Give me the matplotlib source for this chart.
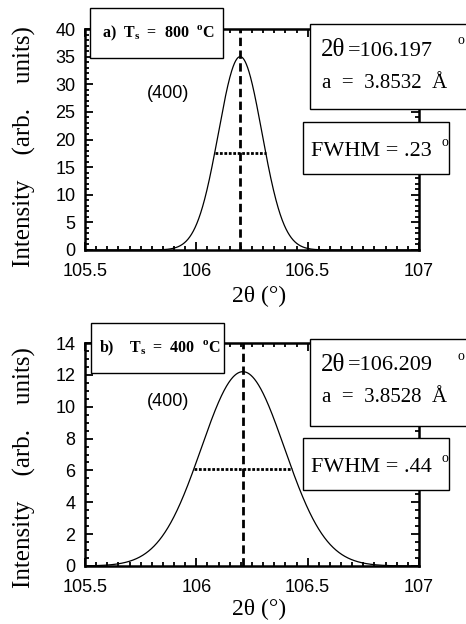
import numpy as np
import matplotlib.pyplot as plt
from matplotlib.patches import Rectangle
from matplotlib.ticker import MultipleLocator

# Fitted (400) peaks for the two substrate temperatures
labels = ["a)", "b)"]
temps = [800, 400]
centers = [106.197, 106.209]      # 2theta, degrees
lattice = [3.8532, 3.8528]        # a, Angstrom
fwhms = [0.23, 0.44]              # degrees
peaks = [35.0, 12.2]              # arb. units
ymax = [40, 14]
ymajor = [5, 2]
yminor = [1, 0.5]

W, H = 466, 624
SERIF = "Liberation Serif"
SANS = "Liberation Sans"

# panel layout in pixels (top-left origin)
AXES = [(85, 29, 419, 250), (85, 343, 419, 566)]
LABEL_BOX = [(90, 8, 223, 58), (91, 323, 224, 373)]
PEAK_BOX = [(310, 24, 472, 109), (310, 339, 472, 426)]
FWHM_BOX = [(303, 122, 449, 174), (303, 438, 449, 490)]


def px_box(fig, box):
    x0, y0, x1, y1 = box
    r = Rectangle((x0 / W, 1 - y1 / H), (x1 - x0) / W, (y1 - y0) / H,
                  transform=fig.transFigure, facecolor="white",
                  edgecolor="black", lw=1.0, zorder=5)
    fig.add_artist(r)


def px_text(fig, x, y, s, **kw):
    fig.text(x / W, 1 - y / H, s, zorder=6, **kw)


def gauss(x, c, fwhm, amp):
    sig = fwhm / (2 * np.sqrt(2 * np.log(2)))
    return amp * np.exp(-0.5 * ((x - c) / sig) ** 2)


fig = plt.figure(figsize=(W / 100, H / 100), dpi=100)
x = np.linspace(105.5, 107, 1500)

for i in range(2):
    l, t, r, b = AXES[i]
    ax = fig.add_axes([l / W, 1 - b / H, (r - l) / W, (b - t) / H])
    c, fw, pk = centers[i], fwhms[i], peaks[i]

    ax.plot(x, gauss(x, c, fw, pk), color="black", lw=0.9)
    ax.plot([c, c], [0, ymax[i]], color="black", lw=2.0, ls=(0, (3, 1.6)))
    ax.plot([c - fw / 2, c + fw / 2], [pk / 2, pk / 2], color="black",
            lw=2.0, ls=(0, (1, 0.6)))

    ax.set_xlim(105.5, 107)
    ax.set_ylim(0, ymax[i])
    ax.set_xticks([105.5, 106, 106.5, 107])
    ax.set_xticklabels(["105.5", "106", "106.5", "107"])
    ax.xaxis.set_minor_locator(MultipleLocator(0.05))
    ax.yaxis.set_major_locator(MultipleLocator(ymajor[i]))
    ax.yaxis.set_minor_locator(MultipleLocator(yminor[i]))
    ax.tick_params(which="both", direction="in", top=True, right=True,
                   width=1.3, labelsize=13)
    ax.tick_params(which="major", length=6)
    ax.tick_params(which="minor", length=3)
    ax.tick_params(axis="x", pad=9)
    ax.tick_params(axis="y", pad=7)
    for lab in ax.get_xticklabels() + ax.get_yticklabels():
        lab.set_fontfamily(SANS)
    for sp in ax.spines.values():
        sp.set_linewidth(1.8)

    ax.text(-0.18, 0.47 if i == 0 else 0.44,
            "Intensity    (arb.    units)", transform=ax.transAxes,
            family=SERIF, fontsize=18, rotation=90,
            ha="center", va="center")
    ax.text(0.52, -0.208 if i == 0 else -0.197, "2θ (°)",
            transform=ax.transAxes, family=SERIF, fontsize=17,
            ha="center", va="center")
    ax.text(0.25, 0.708 if i == 0 else 0.737, "(400)", transform=ax.transAxes,
            family=SANS, fontsize=13, ha="center", va="center")

    # annotation boxes
    lb, pb, fb = LABEL_BOX[i], PEAK_BOX[i], FWHM_BOX[i]
    px_box(fig, lb)
    gap = "  " if i == 0 else "    "
    px_text(fig, (lb[0] + lb[2]) / 2 + 2, (lb[1] + lb[3]) / 2,
            labels[i] + gap + r"T$_\mathregular{s}$  =  " + f"{temps[i]}"
            + r"  $^{\mathregular{o}}$C",
            family=SERIF, fontsize=11.5, weight="bold", ha="center",
            va="center")

    px_box(fig, pb)
    px_text(fig, 321, pb[1] + 26, "2θ", family=SERIF, fontsize=18,
            va="center")
    px_text(fig, 348, pb[1] + 27, f"={centers[i]:.3f}", family=SERIF,
            fontsize=16, va="center")
    px_text(fig, 458, pb[1] + 17, "o", family=SERIF, fontsize=10,
            va="center")
    px_text(fig, 322, pb[1] + 59, f"a  =  {lattice[i]:.4f}  Å",
            family=SERIF, fontsize=15, va="center")

    px_box(fig, fb)
    px_text(fig, 311, fb[1] + 30, f"FWHM = {fwhms[i]:.2f}".replace("0.", "."),
            family=SERIF, fontsize=16, va="center")
    px_text(fig, 441, fb[1] + 20, "o", family=SERIF, fontsize=10,
            va="center")

fig.savefig("out.png", dpi=100)
